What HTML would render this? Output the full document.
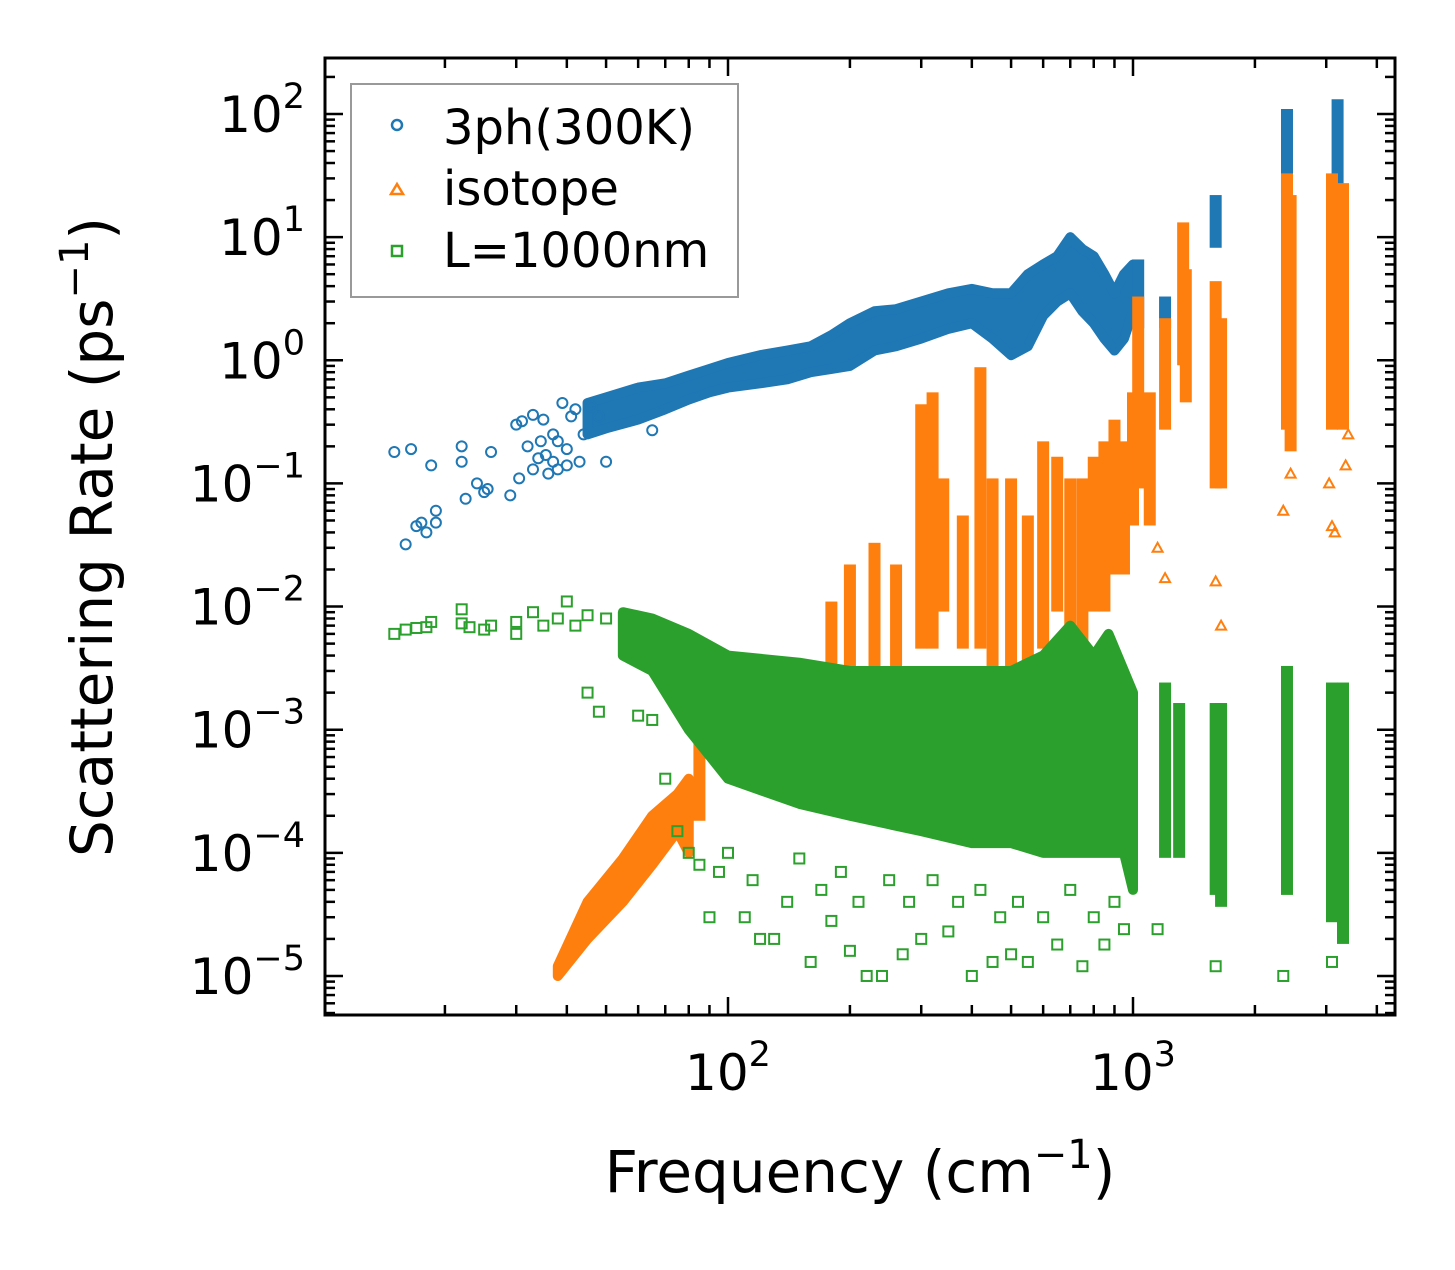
<!DOCTYPE html>
<html><head><meta charset="utf-8"><style>
body{margin:0;background:#fff;}
svg text{font-family:"DejaVu Sans","Liberation Sans",sans-serif;}
</style></head><body>
<svg id="chart" width="1455" height="1265" viewBox="0 0 1455 1265" xmlns="http://www.w3.org/2000/svg">
<rect width="1455" height="1265" fill="#fff"/>
<g id="marks"></g>
<g id="axes"></g>
<text x="860" y="1192" font-size="58" text-anchor="middle">Frequency (cm<tspan dy="-24" font-size="40">−1</tspan><tspan dy="24">)</tspan></text>
<text transform="translate(112,537) rotate(-90)" font-size="58" text-anchor="middle">Scattering Rate (ps<tspan dy="-24" font-size="40">−1</tspan><tspan dy="24">)</tspan></text>
<g>
<rect x="351" y="84" width="387" height="213" fill="#fff" stroke="#999" stroke-width="2"/>
<g><circle cx="397" cy="125" r="5" fill="none" stroke="#1f77b4" stroke-width="2.5"/><text x="443" y="144" font-size="48">3ph(300K)</text></g>
<g><polygon points="391,194 397,184 403,194" fill="none" stroke="#ff7f0e" stroke-width="2.5"/><text x="443" y="205" font-size="48">isotope</text></g>
<g><rect x="392" y="246" width="10" height="10" fill="none" stroke="#2ca02c" stroke-width="2.5"/><text x="443" y="267" font-size="48">L=1000nm</text></g>
</g>
</svg>
<script>
// ---- data ----
const blueTrend=[[45,0.25,0.45],[50,0.28,0.5],[60,0.33,0.6],[70,0.4,0.65],[80,0.48,0.75],[90,0.55,0.85],[100,0.6,0.95],[120,0.65,1.1],[140,0.7,1.2],[160,0.8,1.3],[180,0.85,1.6],[200,0.9,2],[230,1.2,2.5],[260,1.3,2.6],[300,1.5,3],[350,1.8,3.5],[400,2,3.8],[450,1.5,3.5],[500,1.1,3.5],[550,1.3,5],[600,2.3,6],[650,3,7],[700,3.5,10],[750,2.5,8],[800,2,7],[850,1.5,5],[900,1.2,3.5],[950,1.5,5],[1000,2.5,6]];
const blueSpikes=[[1030,2,6],[1200,2,3],[1600,9,20],[2400,25,100],[3200,15,120]];
const bluePts=[[15,0.18],[16,0.032],[16.5,0.19],[17,0.045],[17.5,0.048],[18,0.04],[18.5,0.14],[19,0.06],[19,0.048],[22,0.2],[22,0.15],[22.5,0.075],[24,0.1],[25,0.085],[25.5,0.09],[26,0.18],[29,0.08],[30,0.3],[30.5,0.11],[31,0.32],[32,0.2],[33,0.13],[33,0.36],[34,0.16],[34.5,0.22],[35,0.33],[35.5,0.17],[36,0.12],[37,0.15],[37,0.25],[38,0.13],[38,0.22],[39,0.45],[40,0.19],[40,0.14],[41,0.35],[42,0.4],[43,0.15],[44,0.25],[46,0.42],[48,0.35],[50,0.15],[65,0.27]];
const orangeTrend=[[38,1e-5,1.2e-5],[45,2e-5,4e-5],[55,4e-5,9e-5],[65,8e-5,2e-4],[75,1.5e-4,3e-4],[80,1e-4,4e-4]];
const orangeSpikes=[[85,0.0002,0.0008],[180,0.003,0.01],[200,0.002,0.02],[230,0.003,0.03],[260,0.002,0.02],[300,0.005,0.4],[320,0.005,0.5],[340,0.01,0.1],[380,0.005,0.05],[420,0.005,0.8],[450,0.002,0.1],[500,0.001,0.1],[550,0.003,0.05],[600,0.005,0.2],[650,0.01,0.15],[700,0.004,0.1],[750,0.005,0.1],[800,0.01,0.15],[850,0.01,0.2],[900,0.02,0.3],[950,0.02,0.2],[1000,0.05,0.5],[1030,0.1,3],[1100,0.05,0.5],[1200,0.3,2],[1330,1,12],[1350,0.5,5],[1600,0.1,4],[1650,0.1,2],[2400,0.3,30],[2450,0.2,20],[3100,0.3,30],[3300,0.3,25]];
const orangePts=[[1150,0.03],[1200,0.017],[1600,0.016],[1650,0.007],[2350,0.06],[2450,0.12],[3050,0.1],[3100,0.045],[3150,0.04],[3350,0.14],[3400,0.25]];
const greenTrend=[[55,0.004,0.009],[65,0.003,0.008],[80,0.001,0.006],[100,0.0004,0.004],[150,0.00025,0.0035],[200,0.0002,0.003],[300,0.00015,0.003],[400,0.00012,0.003],[500,0.00012,0.003],[600,0.0001,0.004],[700,0.0001,0.007],[800,0.0001,0.004],[870,0.0001,0.006],[950,0.0001,0.003],[1000,0.00005,0.002]];
const greenSpikes=[[1200,0.0001,0.0022],[1300,0.0001,0.0015],[1600,0.00005,0.0015],[1650,0.00004,0.0015],[2400,0.00005,0.003],[3100,0.00003,0.0022],[3300,0.00002,0.0022]];
const greenPts=[[15,0.006],[16,0.0065],[17,0.0067],[18,0.0068],[18.5,0.0075],[22,0.0073],[22,0.0095],[23,0.0068],[25,0.0065],[26,0.007],[30,0.006],[30,0.0075],[33,0.009],[35,0.007],[38,0.008],[40,0.011],[42,0.007],[45,0.0085],[50,0.008],[45,0.002],[48,0.0014],[60,0.0013],[65,0.0012],[70,0.0004],[75,0.00015],[80,0.0001],[85,0.00008],[90,0.00003],[95,0.00007],[100,0.0001],[110,0.00003],[115,0.00006],[120,0.00002],[130,0.00002],[140,0.00004],[150,0.00009],[160,0.000013],[170,0.00005],[180,0.000028],[190,0.00007],[200,0.000016],[210,0.00004],[220,0.00001],[240,0.00001],[250,0.00006],[270,0.000015],[280,0.00004],[300,0.00002],[320,0.00006],[350,0.000023],[370,0.00004],[400,0.00001],[420,0.00005],[450,0.000013],[470,0.00003],[500,0.000015],[520,0.00004],[550,0.000013],[600,0.00003],[650,0.000018],[700,0.00005],[750,0.000012],[800,0.00003],[850,0.000018],[900,0.00004],[950,0.000024],[1150,0.000024],[1600,0.000012],[2350,0.00001],[3100,0.000013]];
const xTickVals=[100,1000];
const xTickLabels=["2","3"];
const yTickVals=[100,10,1,0.1,0.01,0.001,0.0001,0.00001];
const yTickLabels=["2","1","0","−1","−2","−3","−4","−5"];

// ---- axes ----
const L=325,R=1395,T=58,B=1015;
const X=v=>728+405*(Math.log10(v)-2);
const Y=v=>114-123.14*(Math.log10(v)-2);
const NS="http://www.w3.org/2000/svg";
const marks=document.getElementById('marks'), axes=document.getElementById('axes');
function mk(tag,attrs,parent){const e=document.createElementNS(NS,tag);for(const k in attrs)e.setAttribute(k,attrs[k]);parent.appendChild(e);return e;}
const C={b:"#1f77b4",o:"#ff7f0e",g:"#2ca02c"};

function trend(arr,col,name){
  const up=arr.map(d=>X(d[0])+','+Y(d[2])), lo=arr.slice().reverse().map(d=>X(d[0])+','+Y(d[1]));
  const p=mk('polygon',{points:up.concat(lo).join(' '),fill:col,stroke:col,'stroke-width':10,'stroke-linejoin':'round'},marks);
  
  
}
function spikes(arr,col,name){
  arr.forEach(d=>{
    const r=mk('rect',{x:X(d[0])-6,y:Y(d[2])-5,width:12,height:Y(d[1])-Y(d[2])+10,fill:col},marks);
    
    
  });
}
function pts(arr,col,shape,name){
  arr.forEach(d=>{
    const x=X(d[0]),y=Y(d[1]);let e;
    if(shape==='c')e=mk('circle',{cx:x,cy:y,r:5,fill:'none',stroke:col,'stroke-width':2},marks);
    else if(shape==='t')e=mk('polygon',{points:(x-5)+','+(y+4)+' '+x+','+(y-5)+' '+(x+5)+','+(y+4),fill:'none',stroke:col,'stroke-width':2},marks);
    else e=mk('rect',{x:x-5,y:y-5,width:10,height:10,fill:'none',stroke:col,'stroke-width':2},marks);
    
    
  });
}
trend(blueTrend,C.b,'3ph-band');spikes(blueSpikes,C.b,'3ph-spike');pts(bluePts,C.b,'c','3ph-point');
trend(orangeTrend,C.o,'isotope-band');spikes(orangeSpikes,C.o,'isotope-spike');pts(orangePts,C.o,'t','isotope-point');
trend(greenTrend,C.g,'boundary-band');spikes(greenSpikes,C.g,'boundary-spike');pts(greenPts,C.g,'s','boundary-point');

// frame
const fr=mk('rect',{x:L,y:T,width:R-L,height:B-T,fill:'none',stroke:'#000','stroke-width':3},axes);


// x ticks
for(let e=1;e<=3;e++)for(let m=1;m<10;m++){const v=m*Math.pow(10,e),x=X(v);if(x<L||x>R)continue;const len=m===1?18:10;
  mk('line',{x1:x,x2:x,y1:B,y2:B-len,stroke:'#000','stroke-width':2.5},axes);
  mk('line',{x1:x,x2:x,y1:T,y2:T+len,stroke:'#000','stroke-width':2.5},axes);}
xTickVals.forEach((v,i)=>{const t=mk('text',{x:X(v),y:1090,'font-size':50,'text-anchor':'middle'},axes);t.textContent='10';
  const s=mk('tspan',{dy:-24,'font-size':35},t);s.textContent=xTickLabels[i];
  
  });
// y ticks
for(let e=-6;e<=2;e++)for(let m=1;m<10;m++){const v=m*Math.pow(10,e),y=Y(v);if(y<T||y>B)continue;const len=m===1?18:10;
  mk('line',{x1:L,x2:L+len,y1:y,y2:y,stroke:'#000','stroke-width':2.5},axes);
  mk('line',{x1:R,x2:R-len,y1:y,y2:y,stroke:'#000','stroke-width':2.5},axes);}
yTickVals.forEach((v,i)=>{const t=mk('text',{x:305,y:Y(v)+18,'font-size':50,'text-anchor':'end'},axes);t.textContent='10';
  const s=mk('tspan',{dy:-24,'font-size':35},t);s.textContent=yTickLabels[i];
  
  });
</script>
</body></html>
